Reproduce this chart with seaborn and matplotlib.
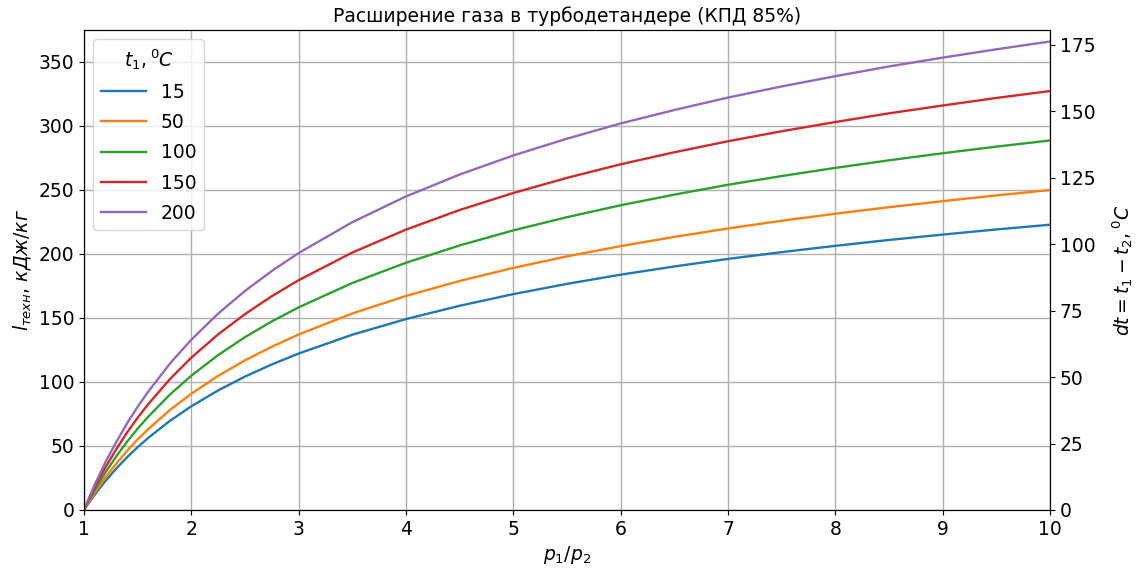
import numpy as np
import pandas as pd
import seaborn as sns
import matplotlib
matplotlib.use("Agg")
import matplotlib.pyplot as plt

# pressure ratio p1/p2
ratio = [1.0, 1.05, 1.1, 1.2, 1.3, 1.4, 1.5, 1.6, 1.8, 2.0, 2.25, 2.5, 2.75, 3.0,
         3.5, 4.0, 4.5, 5.0, 5.5, 6.0, 6.5, 7.0, 7.5, 8.0, 8.5, 9.0, 9.5, 10.0]

# l_tech, kJ/kg for each inlet temperature t1
t1_labels = ["15", "50", "100", "150", "200"]
l_15 = [0, 6.2, 12.0, 22.7, 32.3, 41.1, 49.1, 56.4, 69.6, 81.0, 93.4, 104.2, 113.7, 122.2,
        136.9, 149.1, 159.5, 168.6, 176.6, 183.8, 190.2, 196.1, 201.4, 206.3, 210.9, 215.1, 219.1, 222.8]
l_50 = [0, 7.0, 13.5, 25.5, 36.2, 46.1, 55.1, 63.3, 78.1, 90.8, 104.8, 116.9, 127.5, 137.1,
        153.5, 167.2, 178.9, 189.1, 198.1, 206.1, 213.3, 219.9, 225.9, 231.4, 236.5, 241.2, 245.7, 249.9]
l_100 = [0, 8.0, 15.5, 29.4, 41.8, 53.2, 63.6, 73.0, 90.1, 104.9, 121.0, 135.0, 147.3, 158.3,
         177.3, 193.1, 206.6, 218.4, 228.7, 238.0, 246.3, 254.0, 260.8, 267.2, 273.1, 278.6, 283.8, 288.6]
l_150 = [0, 9.1, 17.6, 33.3, 47.4, 60.4, 72.1, 82.8, 102.2, 119.0, 137.2, 153.0, 167.0, 179.5,
         201.1, 219.0, 234.3, 247.6, 259.4, 270.0, 279.4, 288.0, 295.8, 303.0, 309.8, 315.9, 321.8, 327.2]
l_200 = [0, 10.2, 19.7, 37.3, 53.0, 67.5, 80.6, 92.6, 114.3, 133.0, 153.4, 171.1, 186.7, 200.7,
         224.8, 244.9, 262.0, 276.9, 290.0, 301.9, 312.4, 322.1, 330.8, 338.8, 346.4, 353.3, 359.8, 365.9]

left_ticks = [0, 50, 100, 150, 200, 250, 300, 350]
right_ticks = [0, 25, 50, 75, 100, 125, 150, 175]
x_ticks = [1, 2, 3, 4, 5, 6, 7, 8, 9, 10]

series = [l_15, l_50, l_100, l_150, l_200]
frames = []
for lab, vals in zip(t1_labels, series):
    frames.append(pd.DataFrame({"x": ratio, "l": vals, "t1": lab}))
df = pd.concat(frames, ignore_index=True)

plt.rcParams["font.size"] = 13.5

fig = plt.figure(figsize=(11.41, 5.74), dpi=100)
ax = fig.add_axes([0.0736, 0.1115, 0.8466, 0.8365])

sns.lineplot(
    data=df,
    x="x",
    y="l",
    hue="t1",
    hue_order=t1_labels,
    palette="tab10",
    linewidth=1.7,
    ax=ax
)

ax.set_xlim(1, 10)
ax.set_ylim(0, 375)
ax.set_xticks(x_ticks)
ax.set_yticks(left_ticks)
ax.grid(True, color="#b0b0b0", linewidth=1.0)
ax.set_xlabel("$p_1/p_2$")
ax.set_ylabel("$l_{техн}$, $кДж/кг$")
ax.set_title("Расширение газа в турбодетандере (КПД 85%)", fontsize=13.5)
ax.legend(title="$t_1, ^0C$", loc="upper left", handlelength=2.4,
          labelspacing=0.6, fontsize=13.5, title_fontsize=13.5)

ax2 = ax.twinx()
ax2.set_ylim(0, 180.6)
ax2.set_yticks(right_ticks)
ax2.set_ylabel("$dt = t_1 - t_2, ^0C$", labelpad=11)

fig.savefig("out.png", dpi=100)
